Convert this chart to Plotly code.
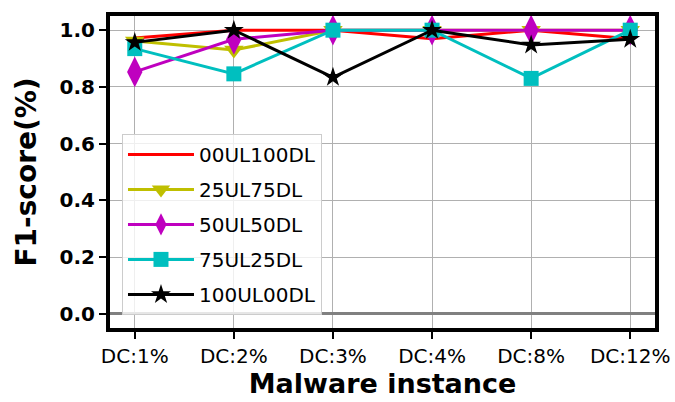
import plotly.graph_objects as go

categories = ["DC:1%", "DC:2%", "DC:3%", "DC:4%", "DC:8%", "DC:12%"]
s_00UL100DL = [0.972, 1.0, 1.0, 0.97, 1.0, 0.97]
s_25UL75DL = [0.962, 0.93, 1.0, 1.0, 1.0, 1.0]
s_50UL50DL = [0.853, 0.968, 1.0, 1.0, 1.0, 1.0]
s_75UL25DL = [0.935, 0.846, 1.0, 1.0, 0.83, 1.0]
s_100UL00DL = [0.957, 1.0, 0.834, 1.0, 0.948, 0.968]
yticks = [0.0, 0.2, 0.4, 0.6, 0.8, 1.0]

series = [
    ("00UL100DL", s_00UL100DL, "#ff0000", None, 0),
    ("25UL75DL", s_25UL75DL, "#bfbf00", "triangle-down", 17),
    ("50UL50DL", s_50UL50DL, "#bf00bf", "diamond-tall", 22),
    ("75UL25DL", s_75UL25DL, "#00bfbf", "square", 15),
    ("100UL00DL", s_100UL00DL, "#000000", "star", 15),
]

fig = go.Figure()
for i, (name, vals, color, sym, size) in enumerate(series):
    kw = dict(mode="lines")
    if sym:
        kw = dict(mode="lines+markers",
                  marker=dict(symbol=sym, size=size, color=color, line=dict(width=0)))
    fig.add_trace(go.Scatter(x=categories, y=vals, name=name, legendgroup=name,
                             line=dict(color=color, width=3), **kw))

font_family = "DejaVu Sans"
fig.update_layout(
    width=675, height=402,
    margin=dict(l=110, r=20, t=16, b=74),
    plot_bgcolor="white", paper_bgcolor="white",
    font=dict(family=font_family, color="black"),
    showlegend=True,
    legend=dict(x=0.022, y=0.042, xanchor="left", yanchor="bottom",
                bgcolor="rgba(255,255,255,0.8)", bordercolor="#cccccc", borderwidth=1,
                font=dict(size=20, family=font_family), tracegroupgap=6,
                itemwidth=66),
)
fig.update_xaxes(
    type="category", range=[-0.25, 5.25], automargin=False,
    showline=True, linecolor="black", linewidth=4, mirror=True,
    ticks="outside", ticklen=7, tickwidth=1.5, tickcolor="black",
    showgrid=True, gridcolor="#b0b0b0", gridwidth=1.2,
    tickfont=dict(size=20, family=font_family),
    title=dict(text="Malware instance", font=dict(size=27, family=font_family, weight="bold"), standoff=6),
)
fig.update_yaxes(
    range=[-0.05, 1.05], tickvals=yticks, ticktext=[f"{v:.1f}" for v in yticks],
    automargin=False,
    showline=True, linecolor="black", linewidth=4, mirror=True,
    ticks="outside", ticklen=7, tickwidth=1.5, tickcolor="black",
    showgrid=True, gridcolor="#b0b0b0", gridwidth=1.2,
    zeroline=True, zerolinecolor="#808080", zerolinewidth=3,
    tickfont=dict(size=20, family=font_family, weight="bold"),
    title=dict(text="F1-score(%)", font=dict(size=28, family=font_family, weight="bold"), standoff=16),
)
fig.write_html("out.html")
